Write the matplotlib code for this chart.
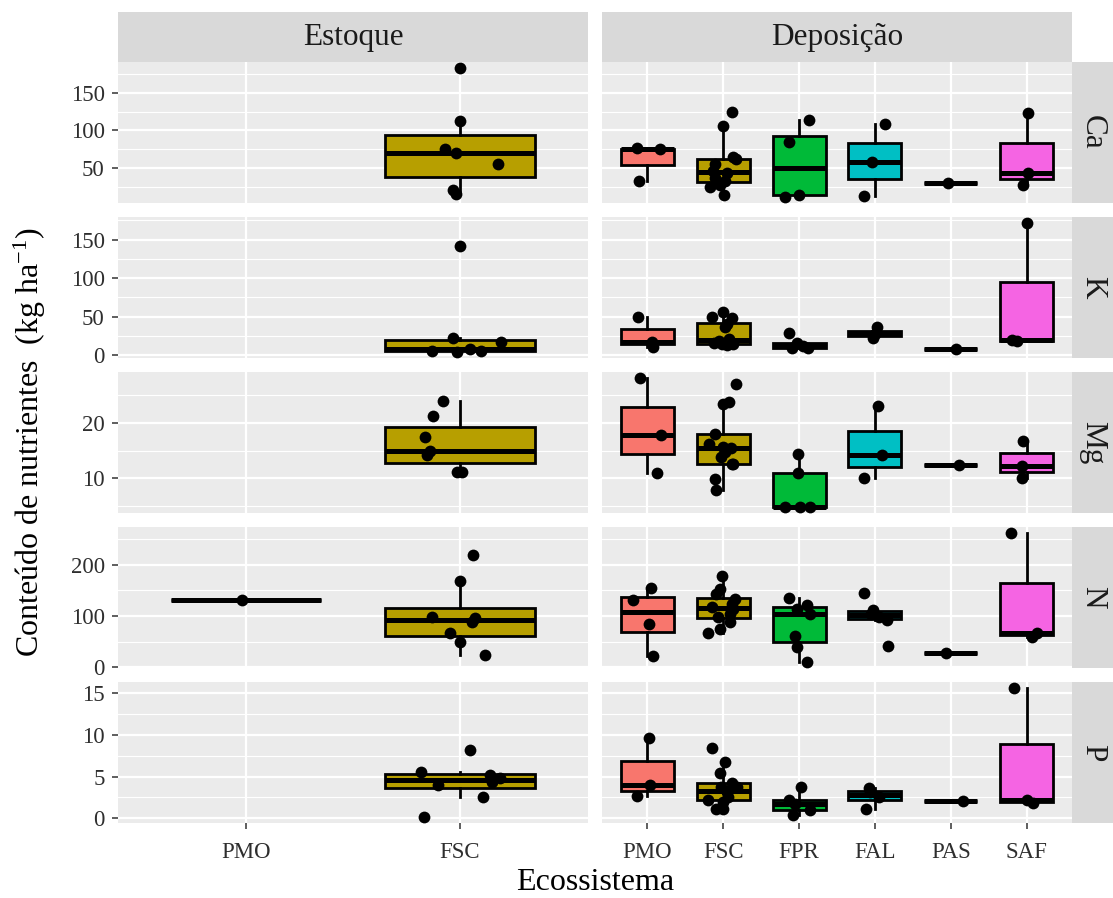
import numpy as np
import matplotlib
matplotlib.use("Agg")
import matplotlib.pyplot as plt

plt.rcParams['font.family'] = ['Liberation Serif', 'DejaVu Serif']
plt.rcParams['mathtext.fontset'] = 'custom'
plt.rcParams['mathtext.rm'] = 'Liberation Serif'
plt.rcParams['mathtext.it'] = 'Liberation Serif:italic'

# ---------------- data ----------------
nutrients = ["Ca", "K", "Mg", "N", "P"]
panel_groups = ["Estoque", "Deposição"]
ecos_estoque = ["PMO", "FSC"]
ecos_deposicao = ["PMO", "FSC", "FPR", "FAL", "PAS", "SAF"]
eco_colors = {"PMO": "#F8766D", "FSC": "#B79F00", "FPR": "#00BA38",
              "FAL": "#00BFC4", "PAS": "#619CFF", "SAF": "#F564E3"}

y_breaks = {"Ca": [50, 100, 150], "K": [0, 50, 100, 150], "Mg": [10, 20],
            "N": [0, 100, 200], "P": [0, 5, 10, 15]}

# Estoque (kg ha-1)
ca_est = {"FSC": [182, 112, 76, 70, 56, 21, 16]}
k_est = {"FSC": [141, 21.5, 17.2, 8, 5.6, 4.6, 4.4]}
mg_est = {"FSC": [24, 21.2, 17.4, 14.9, 14.2, 11.2, 11.2]}
n_est = {"PMO": [132], "FSC": [218, 169, 98, 96.8, 88.3, 65.8, 49.6, 23.8]}
p_est = {"FSC": [8.2, 5.6, 5.2, 4.8, 4.3, 3.95, 2.55, 0.2]}

# Deposição (kg ha-1)
ca_dep = {"PMO": [77, 75, 33],
          "FSC": [124, 106, 65, 62, 55, 47, 44, 37, 33, 28, 25, 15],
          "FPR": [114, 85, 15, 12.5],
          "FAL": [108.6, 58, 13.7],
          "PAS": [31],
          "SAF": [123, 44.3, 28]}
k_dep = {"PMO": [49.5, 17.2, 10.7],
         "FSC": [56, 49.5, 48.7, 40, 37, 21, 18, 16, 15, 14.5, 14, 13],
         "FPR": [28.8, 16, 12, 9.4, 9.4],
         "FAL": [35.8, 27, 21.5],
         "PAS": [8.1],
         "SAF": [171, 19, 18]}
mg_dep = {"PMO": [28, 17.8, 10.9],
          "FSC": [27, 23.75, 23.3, 18, 16.1, 15.6, 15.4, 14.8, 13.9, 12.6, 12.5, 9.9, 7.9],
          "FPR": [14.3, 10.95, 4.9, 4.9, 4.9],
          "FAL": [23, 14.2, 10],
          "PAS": [12.4],
          "SAF": [16.8, 12.2, 10]}
n_dep = {"PMO": [155, 132, 85, 22.5],
         "FSC": [178.7, 151.6, 142, 133.6, 122.5, 118, 113, 104.5, 98, 88.3, 74, 66.4],
         "FPR": [134, 121, 114, 104, 60, 40, 10.9],
         "FAL": [143.8, 112, 104, 98, 92, 41.8],
         "PAS": [27.1],
         "SAF": [261, 66.4, 58]}
p_dep = {"PMO": [9.7, 3.95, 2.7],
         "FSC": [8.5, 6.7, 5.45, 4.2, 3.8, 3.75, 3.3, 3.15, 2.5, 2.25, 2.0, 1.07, 1.07],
         "FPR": [3.75, 2.17, 1.66, 0.98, 0.4],
         "FAL": [3.63, 3.2, 2.5, 1.07],
         "PAS": [2.05],
         "SAF": [15.6, 2.17, 1.78]}

# horizontal jitter of the points (category units)
ca_est_jit = {"FSC": [0.0, 0.0, -0.07, -0.02, 0.18, -0.03, -0.02]}
k_est_jit = {"FSC": [0.0, -0.03, 0.195, 0.05, -0.13, 0.1, -0.015]}
mg_est_jit = {"FSC": [-0.08, -0.125, -0.165, -0.14, -0.155, -0.015, 0.01]}
n_est_jit = {"PMO": [-0.02], "FSC": [0.06, 0.0, -0.13, 0.07, 0.055, -0.045, 0.0, 0.12]}
p_est_jit = {"FSC": [0.05, -0.18, 0.14, 0.19, 0.15, -0.1, 0.11, -0.17]}

ca_dep_jit = {"PMO": [-0.14, 0.165, -0.11],
              "FSC": [0.11, -0.01, 0.13, 0.165, -0.11, -0.13, 0.05, -0.11, 0.02, -0.05, -0.175, 0.01],
              "FPR": [0.13, -0.13, 0.0, -0.19],
              "FAL": [0.13, -0.04, -0.15],
              "PAS": [-0.03],
              "SAF": [0.02, 0.02, -0.04]}
k_dep_jit = {"PMO": [-0.12, 0.055, 0.07],
             "FSC": [0.0, -0.145, 0.12, 0.045, 0.02, 0.08, -0.06, 0.1, -0.12, -0.02, 0.13, 0.05],
             "FPR": [-0.13, -0.03, 0.05, -0.1, 0.12],
             "FAL": [0.03, 0.0, -0.02],
             "PAS": [0.07],
             "SAF": [0.0, -0.19, -0.12]}
mg_dep_jit = {"PMO": [-0.1, 0.18, 0.12],
              "FSC": [0.165, 0.075, 0.0, -0.11, -0.185, -0.01, 0.1, 0.02, -0.03, 0.13, 0.11, -0.11, -0.09],
              "FPR": [-0.02, -0.01, -0.19, 0.01, 0.14],
              "FAL": [0.045, 0.1, -0.145],
              "PAS": [0.11],
              "SAF": [-0.04, -0.065, -0.065]}
n_dep_jit = {"PMO": [0.04, -0.19, 0.02, 0.075],
             "FSC": [-0.02, -0.05, -0.09, 0.155, 0.11, -0.15, 0.13, 0.09, -0.065, 0.09, -0.045, -0.2],
             "FPR": [-0.13, 0.11, -0.025, 0.145, -0.055, -0.025, 0.1],
             "FAL": [-0.145, -0.02, -0.05, 0.05, 0.155, 0.17],
             "PAS": [-0.06],
             "SAF": [-0.2, 0.135, 0.07]}
p_dep_jit = {"PMO": [0.02, 0.03, -0.14],
             "FSC": [-0.155, 0.02, -0.045, 0.11, 0.175, -0.03, 0.05, 0.045, 0.065, -0.2, 0.0, -0.1, 0.0],
             "FPR": [0.02, -0.13, -0.055, 0.145, -0.075],
             "FAL": [-0.075, -0.06, 0.05, -0.12],
             "PAS": [0.165],
             "SAF": [-0.165, 0.0, 0.09]}

estoque = {"Ca": ca_est, "K": k_est, "Mg": mg_est, "N": n_est, "P": p_est}
deposicao = {"Ca": ca_dep, "K": k_dep, "Mg": mg_dep, "N": n_dep, "P": p_dep}
estoque_jit = {"Ca": ca_est_jit, "K": k_est_jit, "Mg": mg_est_jit, "N": n_est_jit, "P": p_est_jit}
deposicao_jit = {"Ca": ca_dep_jit, "K": k_dep_jit, "Mg": mg_dep_jit, "N": n_dep_jit, "P": p_dep_jit}

# ---------------- layout (pixels) ----------------
W, H = 1113, 898
fig = plt.figure(figsize=(W / 100, H / 100), dpi=100)

col_x = [(118, 588), (602, 1072)]
row_y = [(62, 203), (217, 358), (372, 513), (527, 668), (682, 823)]
strip_top = (12, 62)
strip_right = (1072, 1113)

PANEL_BG = "#EBEBEB"
STRIP_BG = "#D9D9D9"
TXT = "#1A1A1A"
TICK_TXT = "#2E2E2E"


def px_axes(x0, y0, x1, y1):
    return fig.add_axes([x0 / W, 1 - y1 / H, (x1 - x0) / W, (y1 - y0) / H])


columns = [(ecos_estoque, estoque, estoque_jit), (ecos_deposicao, deposicao, deposicao_jit)]

for r, nut in enumerate(nutrients):
    row_vals = [v for grp in (estoque, deposicao) for vals in grp[nut].values() for v in vals]
    lo, hi = min(row_vals), max(row_vals)
    pad = 0.05 * (hi - lo)
    ylim = (lo - pad, hi + pad)
    major = y_breaks[nut]
    step = major[1] - major[0]
    minor = [m for m in np.arange(major[0] - step / 2, major[-1] + step, step)
             if ylim[0] <= m <= ylim[1]]

    for c, (cats, source, jitter) in enumerate(columns):
        x0, x1 = col_x[c]
        y0, y1 = row_y[r]
        ax = px_axes(x0, y0, x1, y1)
        ax.set_facecolor(PANEL_BG)
        for sp in ax.spines.values():
            sp.set_visible(False)

        data = source[nut]
        for i, cat in enumerate(cats):
            if cat not in data:
                continue
            vals = data[cat]
            pos = i + 1
            ax.boxplot([vals], positions=[pos], widths=0.7, patch_artist=True,
                       showfliers=False, showcaps=False, whis=1.5, manage_ticks=False,
                       boxprops=dict(facecolor=eco_colors[cat], edgecolor="black", linewidth=2.0),
                       whiskerprops=dict(color="black", linewidth=2.0),
                       medianprops=dict(color="black", linewidth=3.6, solid_capstyle="butt"),
                       zorder=2)
            ax.scatter(pos + np.array(jitter[nut][cat]), vals, s=72, color="black",
                       linewidths=0, zorder=3)

        ax.set_xlim(0.4, len(cats) + 0.6)
        ax.set_ylim(*ylim)
        ax.set_xticks(np.arange(1, len(cats) + 1))
        ax.set_xticklabels(cats)
        ax.set_yticks(major)
        ax.set_yticks(minor, minor=True)
        ax.set_axisbelow(True)
        ax.grid(which="major", color="white", linewidth=1.6)
        ax.grid(which="minor", axis="y", color="white", linewidth=0.8)
        ax.tick_params(which="major", length=4.5, width=1.1, color="#333333",
                       labelsize=16.5, labelcolor=TICK_TXT)
        ax.tick_params(axis="y", which="major", pad=5)
        ax.tick_params(axis="x", which="major", pad=9)
        ax.tick_params(which="minor", length=0)
        if c != 0:
            ax.tick_params(axis="y", which="both", left=False, labelleft=False)
        if r != len(nutrients) - 1:
            ax.tick_params(axis="x", which="both", bottom=False, labelbottom=False)

    # right-hand strip with the nutrient name
    sax = px_axes(strip_right[0], row_y[r][0], strip_right[1], row_y[r][1])
    sax.set_facecolor(STRIP_BG)
    sax.set_xticks([])
    sax.set_yticks([])
    for sp in sax.spines.values():
        sp.set_visible(False)
    sax.text(0.5, 0.5, nut, rotation=-90, ha="center", va="center",
             fontsize=22.5, color=TXT, transform=sax.transAxes)

# top strips with the panel group names
for c, name in enumerate(panel_groups):
    sax = px_axes(col_x[c][0], strip_top[0], col_x[c][1], strip_top[1])
    sax.set_facecolor(STRIP_BG)
    sax.set_xticks([])
    sax.set_yticks([])
    for sp in sax.spines.values():
        sp.set_visible(False)
    sax.text(0.5, 0.5, name, ha="center", va="center", fontsize=22.5, color=TXT,
             transform=sax.transAxes)

fig.text(595 / W, 1 - 882 / H, "Ecossistema", ha="center", va="center",
         fontsize=23, color="black")
fig.text(30 / W, 1 - 442 / H, "Conteúdo de nutrientes  (kg ha$^{-1}$)",
         rotation=90, ha="center", va="center", fontsize=23, color="black")

fig.savefig("out.png", dpi=100, facecolor="white")
